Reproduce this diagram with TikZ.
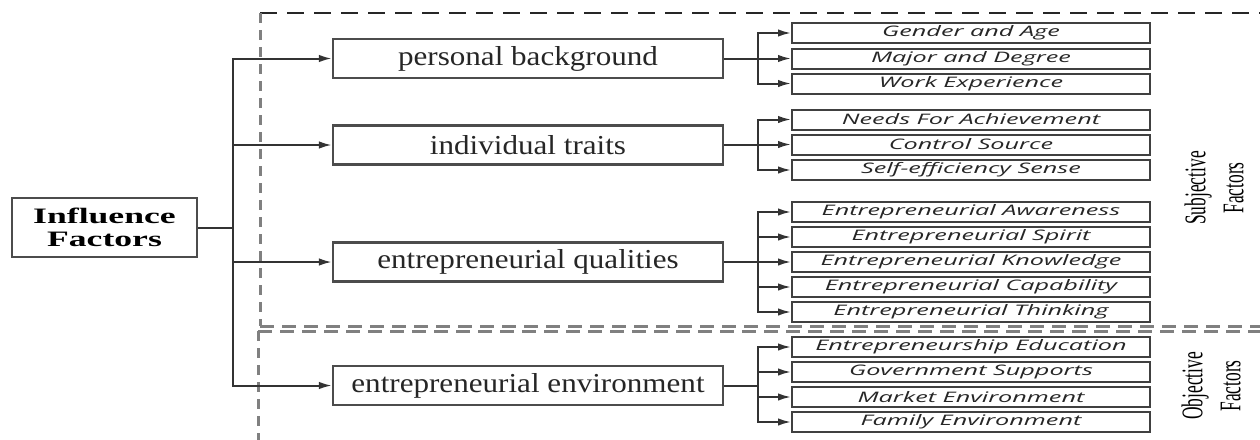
\documentclass[tikz,border=0pt]{standalone}
\usepackage{fontspec}
\setmainfont{Liberation Serif}
\newfontfamily\rfont{Open Sans}
\usetikzlibrary{arrows.meta}
\newcommand{\rtxt}[1]{\scalebox{1.74}[1]{\rfont\itshape\fontsize{14.5}{15}\selectfont #1}}
\newcommand{\mtxt}[1]{\scalebox{1.135}[1]{\fontsize{27.4}{30}\selectfont #1}}
\newcommand{\ltxt}[1]{\scalebox{0.58}[1]{#1}}
\newcommand{\btxt}[1]{\scalebox{1.62}[1]{#1}}
\tikzset{
  lnk/.style={line width=2pt, draw=black!80},
  arr/.style={lnk, -{Latex[length=13pt,width=7.5pt]}},
  midbox/.style={draw=black!70, line width=2.2pt, minimum width=390pt, minimum height=39pt, inner sep=0pt, text=black!85},
  leafbox/.style={draw=black!75, line width=2pt, minimum width=358pt, minimum height=20pt, inner sep=0pt, text=black!85},
  rootbox/.style={draw=black!70, line width=2.2pt, minimum width=185pt, minimum height=59pt, inner sep=0pt, align=center, font=\fontsize{22}{23}\selectfont\bfseries},
  dashgray/.style={draw=black!50, line width=3pt, dash pattern=on 14pt off 8pt},
  dashvert/.style={draw=black!50, line width=3pt, dash pattern=on 10pt off 7pt},
  dashtop/.style={draw=black!85, line width=2.2pt, dash pattern=on 17pt off 10pt},
  sidelabel/.style={rotate=90, align=center, inner sep=0pt, font=\fontsize{30}{38}\selectfont}
}
\begin{document}
\begin{tikzpicture}[x=1pt,y=-1pt]
\useasboundingbox (0,0) rectangle (1260,439);
\clip (0,0) rectangle (1260,439);
% dashed regions
\draw[dashtop] (260,13) -- (1270,13);
\draw[dashvert] (260,13) -- (260,326);
\draw[dashgray] (260,326) -- (1270,326);
\draw[dashgray] (258,331) -- (1270,331);
\draw[dashvert] (258,331) -- (258,445);
% root
\node[rootbox] (inf) at (104.5,227.5) {\btxt{Influence}\\\btxt{Factors}};
% middle boxes
\node[midbox] (pb) at (528,58.5) {\mtxt{personal background}};
\node[midbox] (it) at (528,145) {\mtxt{individual traits}};
\node[midbox] (eq) at (528,262) {\mtxt{entrepreneurial qualities}};
\node[midbox] (ee) at (528,385.5) {\mtxt{entrepreneurial environment}};
% leaves
\node[leafbox] (p1) at (971,33) {\rtxt{Gender and Age}};
\node[leafbox] (p2) at (971,58.5) {\rtxt{Major and Degree}};
\node[leafbox] (p3) at (971,83.5) {\rtxt{Work Experience}};
\node[leafbox] (t1) at (971,119.5) {\rtxt{Needs For Achievement}};
\node[leafbox] (t2) at (971,144.5) {\rtxt{Control Source}};
\node[leafbox] (t3) at (971,170) {\rtxt{Self-efficiency Sense}};
\node[leafbox] (q1) at (971,212) {\rtxt{Entrepreneurial Awareness}};
\node[leafbox] (q2) at (971,237) {\rtxt{Entrepreneurial Spirit}};
\node[leafbox] (q3) at (971,262) {\rtxt{Entrepreneurial Knowledge}};
\node[leafbox] (q4) at (971,287) {\rtxt{Entrepreneurial Capability}};
\node[leafbox] (q5) at (971,312) {\rtxt{Entrepreneurial Thinking}};
\node[leafbox] (e1) at (971,347) {\rtxt{Entrepreneurship Education}};
\node[leafbox] (e2) at (971,372) {\rtxt{Government Supports}};
\node[leafbox] (e3) at (971,397) {\rtxt{Market Environment}};
\node[leafbox] (e4) at (971,422) {\rtxt{Family Environment}};
% side labels
\node[sidelabel] (subj) at (1214,188) {\ltxt{Subjective}\\\ltxt{Factors}};
\node[sidelabel] (obj) at (1211,386) {\ltxt{Objective}\\\ltxt{Factors}};
% root connectors
\foreach \m in {pb,it,eq,ee}{
  \draw[arr] (inf.east) -- +(35,0) |- (\m.west);
}
% leaf connectors
\foreach \l in {p1,p2,p3}{\draw[arr] (pb.east) -- +(34,0) |- (\l.west);}
\foreach \l in {t1,t2,t3}{\draw[arr] (it.east) -- +(34,0) |- (\l.west);}
\foreach \l in {q1,q2,q3,q4,q5}{\draw[arr] (eq.east) -- +(34,0) |- (\l.west);}
\foreach \l in {e1,e2,e3,e4}{\draw[arr] (ee.east) -- +(34,0) |- (\l.west);}
\end{tikzpicture}
\end{document}
